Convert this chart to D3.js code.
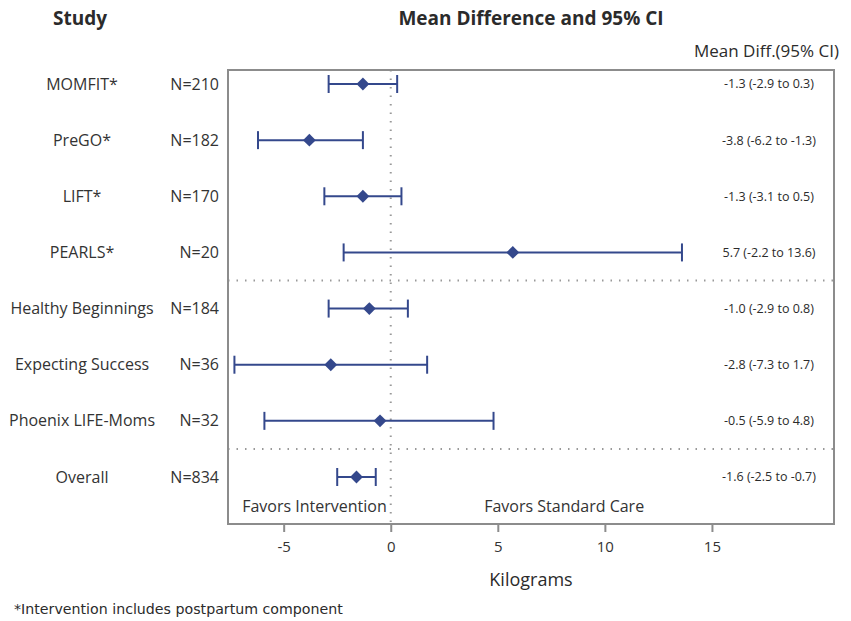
<!DOCTYPE html>
<html>
<head>
<meta charset="utf-8">
<script src="https://cdn.jsdelivr.net/npm/d3@7"></script>
<style>
  body { margin: 0; background: #fff; }
  svg { font-family: "Open Sans", "Liberation Sans", Arial, sans-serif; }
</style>
</head>
<body>
<svg id="chart" width="851" height="621"></svg>
<script>
const studies = ['MOMFIT*', 'PreGO*', 'LIFT*', 'PEARLS*', 'Healthy Beginnings', 'Expecting Success', 'Phoenix LIFE-Moms', 'Overall'];
const sizes = ['N=210', 'N=182', 'N=170', 'N=20', 'N=184', 'N=36', 'N=32', 'N=834'];
const meanDiff = [-1.3, -3.8, -1.3, 5.7, -1.0, -2.8, -0.5, -1.6];
const lower = [-2.9, -6.2, -3.1, -2.2, -2.9, -7.3, -5.9, -2.5];
const upper = [0.3, -1.3, 0.5, 13.6, 0.8, 1.7, 4.8, -0.7];
const xTicks = [-5, 0, 5, 10, 15];
const separatorsAfter = ['PEARLS*', 'Phoenix LIFE-Moms'];

const blue = '#34488c';
const grey = '#8c8c8c';
const ink = '#2b2b2b';

const svg = d3.select('#chart');
const box = { left: 228, right: 834, top: 70, bottom: 524 };

const x = d3.scaleLinear().domain([-7.6, 20.7]).range([box.left, box.right]);
const y = d3.scalePoint().domain(studies).range([84, 477]);
const step = y.step();

const rows = studies.map((s, i) => ({ study: s, n: sizes[i], mean: meanDiff[i], lo: lower[i], hi: upper[i] }));
const fmt = v => v.toFixed(1);

// headers
svg.append('text').attr('x', 80).attr('y', 25).attr('text-anchor', 'middle')
    .attr('font-size', 19).attr('font-weight', 'bold').attr('fill', ink).text('Study');
svg.append('text').attr('x', (box.left + box.right) / 2).attr('y', 25).attr('text-anchor', 'middle')
    .attr('font-size', 19).attr('font-weight', 'bold').attr('fill', ink).text('Mean Difference and 95% CI');
svg.append('text').attr('x', 839).attr('y', 57).attr('text-anchor', 'end')
    .attr('font-size', 17).attr('fill', ink).text('Mean Diff.(95% CI)');

// reference line at 0
svg.append('line')
    .attr('x1', x(0)).attr('x2', x(0)).attr('y1', box.top).attr('y2', box.bottom)
    .attr('stroke', '#999').attr('stroke-width', 2).attr('stroke-dasharray', '1.5,7');

// separators
svg.selectAll('.sep').data(separatorsAfter).enter().append('line')
    .attr('class', 'sep')
    .attr('x1', box.left).attr('x2', box.right)
    .attr('y1', d => y(d) + step / 2).attr('y2', d => y(d) + step / 2)
    .attr('stroke', '#999').attr('stroke-width', 2).attr('stroke-dasharray', '1.5,7');

// frame
svg.append('rect')
    .attr('x', box.left).attr('y', box.top)
    .attr('width', box.right - box.left).attr('height', box.bottom - box.top)
    .attr('fill', 'none').attr('stroke', grey).attr('stroke-width', 2);

// x axis
const axis = svg.append('g').attr('transform', `translate(0,${box.bottom})`)
    .call(d3.axisBottom(x).tickValues(xTicks).tickSize(8).tickPadding(9).tickFormat(d => String(d)));
axis.select('.domain').remove();
axis.selectAll('line').attr('stroke', grey).attr('stroke-width', 2);
axis.selectAll('text').attr('font-size', 15).attr('fill', '#333')
    .attr('font-family', '"Open Sans", "Liberation Sans", Arial, sans-serif');

svg.append('text').attr('x', (box.left + box.right) / 2).attr('y', 586).attr('text-anchor', 'middle')
    .attr('font-size', 18).attr('fill', ink).text('Kilograms');

// error bars
const g = svg.selectAll('.row').data(rows).enter().append('g').attr('class', 'row');
g.append('line')
    .attr('x1', d => x(d.lo)).attr('x2', d => x(d.hi))
    .attr('y1', d => y(d.study)).attr('y2', d => y(d.study))
    .attr('stroke', blue).attr('stroke-width', 2);
g.append('line')
    .attr('x1', d => x(d.lo)).attr('x2', d => x(d.lo))
    .attr('y1', d => y(d.study) - 9).attr('y2', d => y(d.study) + 9)
    .attr('stroke', blue).attr('stroke-width', 2);
g.append('line')
    .attr('x1', d => x(d.hi)).attr('x2', d => x(d.hi))
    .attr('y1', d => y(d.study) - 9).attr('y2', d => y(d.study) + 9)
    .attr('stroke', blue).attr('stroke-width', 2);
g.append('path')
    .attr('d', d3.symbol().type(d3.symbolDiamond2).size(105))
    .attr('transform', d => `translate(${x(d.mean)},${y(d.study)})`)
    .attr('fill', blue);

// labels
g.append('text').attr('x', 82).attr('y', d => y(d.study)).attr('dy', '0.35em')
    .attr('text-anchor', 'middle').attr('font-size', 16).attr('fill', '#333').text(d => d.study);
g.append('text').attr('x', 219).attr('y', d => y(d.study)).attr('dy', '0.35em')
    .attr('text-anchor', 'end').attr('font-size', 16).attr('fill', '#333').text(d => d.n);
g.append('text').attr('x', 769).attr('y', d => y(d.study)).attr('dy', '0.35em')
    .attr('text-anchor', 'middle').attr('font-size', 12.5).attr('fill', ink)
    .text(d => `${fmt(d.mean)} (${fmt(d.lo)} to ${fmt(d.hi)})`);

// favors labels
svg.append('text').attr('x', x(0) - 4).attr('y', 512).attr('text-anchor', 'end')
    .attr('font-size', 16).attr('fill', '#333').text('Favors Intervention');
svg.append('text').attr('x', x(8.1)).attr('y', 512).attr('text-anchor', 'middle')
    .attr('font-size', 16).attr('fill', '#333').text('Favors Standard Care');

// footnote
svg.append('text').attr('x', 14).attr('y', 614)
    .attr('font-family', '"DejaVu Sans", sans-serif').attr('font-size', 14.2).attr('fill', ink)
    .text('*Intervention includes postpartum component');
</script>
</body>
</html>
